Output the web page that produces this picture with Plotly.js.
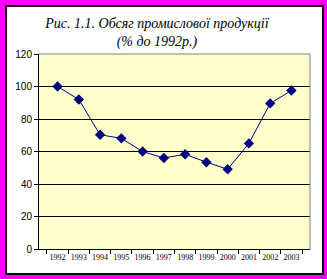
<!DOCTYPE html>
<html>
<head>
<meta charset="utf-8">
<script src="https://cdn.plot.ly/plotly-3.0.1.min.js"></script>
<style>
html,body{margin:0;padding:0;background:#FF00FF;width:327px;height:279px;overflow:hidden;}
#frame{position:absolute;left:5px;top:5px;width:319px;height:270px;box-sizing:border-box;border:2px solid #000;background:#fff;}
#chart{position:absolute;left:0;top:0;width:327px;height:279px;}
</style>
</head>
<body>
<div id="frame"></div>
<div id="chart"></div>
<script>
const years = ["1992","1993","1994","1995","1996","1997","1998","1999","2000","2001","2002","2003"];
const values = [100, 92, 70.3, 68.1, 60, 56, 58.3, 53.4, 49.1, 65, 89.6, 97.5];
const yTicks = [0, 20, 40, 60, 80, 100, 120];
const serif = "'Times New Roman', 'Liberation Serif', serif";

Plotly.newPlot('chart', [{
  x: years, y: values, type: 'scatter', mode: 'lines+markers',
  line: {color: '#000080', width: 1},
  marker: {symbol: 'diamond', size: 8, color: '#000080'},
  hoverinfo: 'skip'
}], {
  width: 327, height: 279,
  margin: {l: 39, r: 17, t: 54, b: 30, pad: 0, autoexpand: false},
  paper_bgcolor: 'rgba(0,0,0,0)',
  plot_bgcolor: '#FFFFCC',
  showlegend: false,
  title: {
    text: 'Рис. 1.1. Обсяг промислової продукції<br>(% до 1992р.)',
    font: {family: serif, size: 14, color: '#000', style: 'italic'},
    x: 0.48, xanchor: 'center', y: 0.90, yanchor: 'top', automargin: false
  },
  xaxis: {
    type: 'category', tickson: 'boundaries', ticks: 'outside', ticklen: 4, tickcolor: '#000',
    showline: true, linecolor: '#000', linewidth: 1, showgrid: false, mirror: false,
    tickfont: {family: serif, size: 8, color: '#000'}, automargin: false,
    tickangle: 0, fixedrange: true
  },
  yaxis: {
    range: [0, 120], tickvals: yTicks, ticks: 'outside', ticklen: 4, tickcolor: '#000',
    showline: true, linecolor: '#000', linewidth: 1, automargin: false,
    showgrid: true, gridcolor: '#000', gridwidth: 1, zeroline: false,
    tickfont: {family: 'Arial, Liberation Sans, sans-serif', size: 10, color: '#000'}, fixedrange: true
  },
  shapes: [
    {type: 'line', xref: 'paper', yref: 'paper', x0: 0, x1: 1, y0: 1, y1: 1, line: {color: '#808080', width: 1}},
    {type: 'line', xref: 'paper', yref: 'paper', x0: 1, x1: 1, y0: 0, y1: 1, line: {color: '#808080', width: 1}}
  ]
}, {displayModeBar: false, staticPlot: true});
</script>
</body>
</html>
